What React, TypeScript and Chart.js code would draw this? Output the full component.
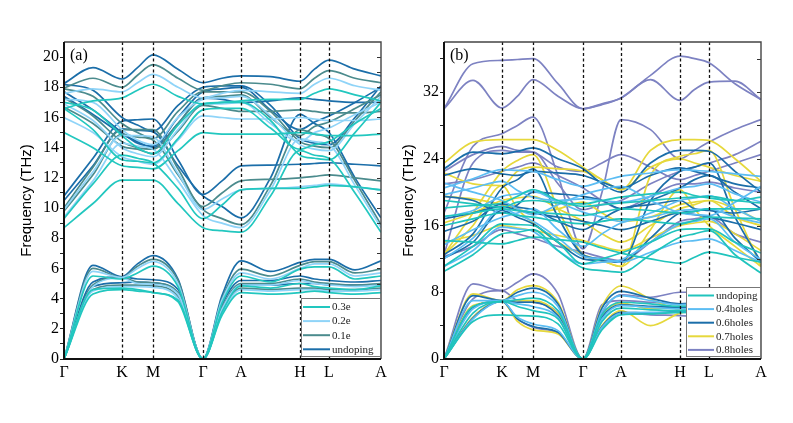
import React, { useEffect, useRef } from 'react';
import { Chart, registerables } from 'chart.js';
Chart.register(...registerables);

// k-path sample positions (path distance units) and high-symmetry points
const K_GRID = [0, 29, 58, 73.5, 89, 114, 139, 158, 177, 206.5, 236, 250.5, 265, 291, 317];
const SYM_POS = [0, 58, 89, 139, 177, 236, 265, 317];
const SYM_LABELS = ['Γ', 'K', 'M', 'Γ', 'A', 'H', 'L', 'A'];

// ---------- panel (a) ----------
const A_Y_TICKS = [0, 1, 2, 3, 4, 5, 6, 7, 8, 9, 10, 11, 12, 13, 14, 15, 16, 17, 18, 19, 20];
const A_Y_LABELED = [0, 2, 4, 6, 8, 10, 12, 14, 16, 18, 20];
const A_LABELS = ['0.3e', '0.2e', '0.1e', 'undoping'];
const A_COLORS = ['#22c7bf', '#8fd4f8', '#4b8b8d', '#1b6ea9'];

const A_E03 = [
  [0, 5.5, 5.3, 5.7, 6.15, 4.8, 0, 3.7, 5.5, 5.1, 5.95, 6.1, 6.1, 5.3, 5.5],
  [0, 4.6, 4.7, 4.6, 4.4, 3.9, 0, 3.1, 4.85, 4.7, 5.0, 4.8, 4.7, 4.6, 4.85],
  [0, 4.3, 4.6, 4.5, 4.4, 3.8, 0, 2.9, 4.4, 4.3, 4.4, 4.5, 4.4, 4.3, 4.4],
  [8.7, 10.3, 11.85, 11.85, 11.85, 10.3, 8.7, 8.5, 8.4, 10.8, 13.8, 13.5, 13.3, 11.0, 8.4],
  [9.3, 11.6, 13.5, 13.3, 13.0, 11.3, 9.3, 10.2, 11.2, 11.3, 11.3, 11.4, 11.5, 11.4, 11.2],
  [15.0, 14.0, 12.8, 12.7, 12.6, 13.8, 15.0, 14.9, 14.9, 14.9, 15.0, 14.9, 14.8, 14.8, 14.9],
  [16.6, 15.2, 13.2, 13.1, 13.0, 14.6, 16.5, 16.6, 16.6, 15.3, 13.9, 14.2, 14.4, 15.6, 16.6],
  [17.0, 16.5, 14.8, 14.0, 13.6, 15.5, 16.9, 17.0, 17.0, 15.8, 13.5, 13.3, 13.2, 15.0, 17.0],
  [16.6, 17.1, 17.3, 17.8, 18.2, 17.4, 16.9, 17.0, 17.1, 17.2, 17.2, 17.6, 17.9, 17.5, 17.1],
];
const A_E02 = [
  [0, 5.8, 5.4, 6.0, 6.45, 5.0, 0, 3.9, 5.7, 5.3, 6.0, 6.3, 6.3, 5.5, 5.7],
  [0, 4.8, 5.35, 5.0, 4.95, 4.3, 0, 3.3, 4.9, 4.9, 5.2, 5.0, 4.9, 4.8, 4.9],
  [0, 4.5, 4.8, 4.8, 4.75, 4.0, 0, 3.0, 4.6, 4.5, 4.6, 4.6, 4.5, 4.5, 4.6],
  [9.4, 11.8, 14.3, 14.1, 13.9, 11.8, 9.5, 9.0, 8.7, 11.2, 14.6, 14.4, 14.2, 11.5, 8.7],
  [9.9, 12.4, 14.8, 14.8, 14.7, 12.3, 9.9, 10.6, 11.2, 11.3, 11.4, 11.5, 11.6, 11.4, 11.2],
  [16.0, 15.0, 13.4, 13.1, 12.9, 14.5, 16.1, 16.0, 15.9, 15.9, 16.0, 15.9, 15.8, 15.8, 15.9],
  [16.9, 15.8, 14.0, 13.6, 13.4, 15.2, 16.9, 16.9, 17.0, 15.6, 14.4, 15.0, 15.3, 16.2, 17.0],
  [17.2, 17.0, 15.2, 14.5, 14.2, 16.0, 17.2, 17.3, 17.4, 16.1, 14.2, 13.9, 13.8, 15.6, 17.4],
  [17.6, 17.9, 17.7, 18.3, 18.85, 18.0, 17.3, 17.6, 17.8, 17.7, 17.6, 18.2, 18.6, 18.1, 17.8],
];
const A_E01 = [
  [0, 6.0, 5.4, 6.15, 6.6, 5.2, 0, 4.0, 5.95, 5.5, 6.2, 6.45, 6.45, 5.7, 5.95],
  [0, 4.9, 5.4, 5.1, 5.05, 4.4, 0, 3.4, 5.0, 5.0, 5.3, 5.1, 5.0, 4.9, 5.0],
  [0, 4.6, 4.9, 4.9, 4.85, 4.1, 0, 3.1, 4.7, 4.6, 4.7, 4.7, 4.6, 4.6, 4.7],
  [9.8, 12.2, 14.9, 14.7, 14.5, 12.2, 9.9, 9.3, 8.9, 11.5, 15.2, 14.9, 14.6, 11.8, 8.9],
  [10.0, 12.7, 15.2, 15.2, 15.2, 12.6, 10.1, 11.0, 11.8, 11.9, 12.0, 12.1, 12.2, 12.0, 11.8],
  [16.7, 15.6, 14.1, 13.9, 13.6, 15.1, 16.8, 16.6, 16.4, 16.4, 16.5, 16.4, 16.3, 16.3, 16.4],
  [17.3, 16.1, 14.4, 14.0, 13.9, 15.6, 17.3, 17.4, 17.5, 16.0, 14.8, 15.4, 15.7, 16.6, 17.5],
  [17.9, 17.4, 15.6, 15.0, 14.6, 16.4, 17.7, 17.7, 17.7, 16.4, 14.4, 14.1, 14.0, 15.8, 17.7],
  [17.95, 18.6, 18.0, 18.8, 19.5, 18.6, 17.8, 18.1, 18.3, 18.2, 17.9, 18.6, 19.1, 18.6, 18.3],
];
const A_UNDOPING = [
  [0, 6.2, 5.45, 6.3, 6.85, 5.3, 0, 4.2, 6.5, 5.8, 6.4, 6.6, 6.6, 5.9, 6.5],
  [0, 5.1, 5.45, 5.3, 5.25, 4.6, 0, 3.6, 5.2, 5.2, 5.5, 5.3, 5.2, 5.1, 5.2],
  [0, 4.8, 5.05, 5.1, 5.05, 4.3, 0, 3.3, 4.9, 4.9, 5.0, 5.0, 4.9, 4.9, 4.9],
  [10.5, 12.8, 15.25, 15.15, 15.05, 12.8, 10.8, 10.1, 9.35, 12.0, 16.2, 15.6, 15.0, 12.0, 9.35],
  [10.8, 13.3, 15.75, 15.85, 15.9, 13.2, 10.9, 11.8, 12.8, 12.85, 12.9, 12.95, 13.0, 12.9, 12.8],
  [17.4, 16.2, 14.9, 14.4, 14.0, 15.6, 17.3, 17.2, 17.0, 17.1, 17.3, 17.2, 17.1, 17.0, 17.0],
  [17.7, 16.5, 15.0, 14.3, 14.1, 16.0, 17.7, 17.9, 18.0, 16.5, 15.2, 15.7, 16.1, 17.0, 18.0],
  [18.2, 17.8, 16.0, 15.5, 15.1, 16.8, 18.0, 18.1, 18.1, 16.8, 14.6, 14.3, 14.2, 16.0, 18.1],
  [18.25, 19.3, 18.55, 19.3, 20.15, 19.2, 18.3, 18.6, 18.75, 18.7, 18.4, 19.2, 19.8, 19.2, 18.75],
];

// ---------- panel (b) ----------
const B_Y_TICKS = [0, 4, 8, 12, 16, 20, 24, 28, 32, 36];
const B_Y_LABELED = [0, 8, 16, 24, 32];
const B_LABELS = ['undoping', '0.4holes', '0.6holes', '0.7holes', '0.8holes'];
const B_COLORS = ['#20c4bd', '#5cbdf3', '#1b6ea9', '#e6d83c', '#7d82c2'];

const B_UNDOPING = [
  [0, 4.5, 5.3, 5.2, 5.15, 4.2, 0, 3.5, 5.3, 5.4, 5.6, 5.6, 5.5, 5.4, 5.3],
  [0, 5.5, 6.9, 6.3, 5.8, 4.8, 0, 4.5, 6.1, 5.9, 5.8, 5.9, 6.0, 6.0, 6.1],
  [0, 6.3, 6.9, 7.1, 7.3, 5.8, 0, 5.3, 6.8, 6.6, 6.3, 6.4, 6.4, 6.6, 6.8],
  [10.5, 12.5, 15.0, 15.2, 15.5, 13.0, 10.9, 10.6, 10.4, 12.5, 14.6, 15.0, 15.4, 12.5, 10.3],
  [11.1, 13.5, 16.2, 16.1, 16.0, 14.0, 11.4, 12.0, 12.7, 14.0, 15.5, 15.6, 15.6, 14.0, 12.7],
  [14.2, 14.0, 13.8, 14.2, 14.6, 14.3, 14.0, 13.3, 12.7, 12.0, 11.5, 12.2, 12.8, 12.2, 11.6],
  [16.0, 16.8, 17.5, 17.2, 17.0, 16.5, 16.2, 16.5, 16.8, 16.5, 16.2, 16.6, 17.0, 16.9, 16.8],
  [17.1, 17.5, 18.0, 17.8, 17.6, 17.4, 17.2, 17.6, 18.0, 17.8, 17.5, 17.7, 18.0, 18.0, 18.0],
  [18.1, 18.4, 18.7, 19.5, 20.3, 19.0, 18.3, 18.5, 18.7, 19.0, 19.3, 19.4, 19.5, 19.0, 18.7],
  [19.0, 18.6, 18.2, 18.8, 19.0, 18.7, 18.6, 19.0, 19.4, 19.8, 20.0, 19.6, 19.3, 19.0, 19.4],
];
const B_H04 = [
  [0, 4.8, 6.9, 5.0, 4.2, 3.4, 0, 3.8, 5.5, 5.6, 5.6, 5.6, 5.5, 5.4, 5.5],
  [0, 6.0, 6.9, 6.6, 6.3, 5.0, 0, 4.8, 6.4, 6.2, 6.0, 6.0, 6.1, 6.2, 6.4],
  [0, 7.0, 7.0, 7.6, 8.0, 6.3, 0, 5.7, 7.6, 7.0, 6.5, 6.6, 6.7, 7.0, 7.4],
  [11.1, 13.0, 15.8, 15.6, 15.3, 13.0, 11.4, 11.6, 11.9, 14.0, 16.2, 16.5, 16.8, 14.0, 11.9],
  [12.0, 14.5, 18.0, 17.3, 16.5, 14.5, 12.3, 12.0, 11.6, 12.8, 14.0, 14.2, 14.4, 13.0, 11.6],
  [13.7, 15.5, 17.0, 17.5, 18.0, 15.5, 13.5, 15.0, 16.3, 17.0, 17.8, 17.9, 18.0, 17.0, 16.3],
  [17.0, 17.8, 19.5, 19.8, 20.1, 18.8, 17.6, 17.0, 16.5, 17.5, 19.0, 19.3, 19.6, 18.0, 16.5],
  [19.7, 20.5, 21.3, 20.2, 19.4, 19.0, 19.2, 19.0, 18.8, 19.5, 20.5, 20.7, 21.0, 19.8, 18.8],
  [20.5, 21.6, 22.7, 22.6, 22.5, 21.5, 20.7, 21.3, 21.9, 22.3, 22.7, 22.6, 22.5, 22.2, 21.9],
  [21.1, 20.0, 19.0, 18.0, 17.3, 18.5, 19.7, 20.3, 20.7, 19.0, 17.5, 17.3, 17.2, 18.8, 20.7],
];
const B_H06 = [
  [0, 4.9, 6.9, 4.8, 3.9, 3.2, 0, 3.9, 5.6, 5.5, 5.7, 5.6, 5.5, 5.4, 5.6],
  [0, 6.2, 6.9, 6.8, 6.8, 5.2, 0, 5.0, 6.5, 6.3, 6.2, 6.2, 6.2, 6.3, 6.4],
  [0, 7.6, 7.0, 8.0, 8.5, 6.6, 0, 6.1, 8.1, 7.3, 6.6, 6.7, 6.8, 7.2, 7.8],
  [12.1, 14.0, 17.8, 17.0, 16.2, 14.0, 12.0, 11.8, 11.6, 14.5, 17.5, 17.7, 18.0, 14.5, 11.6],
  [12.5, 15.0, 20.5, 21.5, 22.8, 17.0, 12.5, 12.0, 11.6, 19.0, 22.5, 23.0, 23.5, 17.0, 11.6],
  [15.3, 16.5, 18.6, 18.2, 17.9, 16.5, 15.5, 16.8, 18.0, 18.5, 19.0, 18.0, 17.8, 17.5, 18.0],
  [16.8, 17.5, 18.3, 17.8, 17.5, 17.0, 16.5, 16.0, 15.5, 16.5, 17.5, 17.3, 17.0, 16.3, 15.5],
  [19.5, 19.0, 17.5, 18.5, 20.0, 19.8, 19.5, 19.0, 18.0, 19.0, 20.5, 21.5, 22.0, 20.0, 18.0],
  [22.0, 22.8, 22.2, 22.0, 22.5, 22.3, 22.0, 21.2, 20.5, 22.0, 22.9, 22.5, 22.0, 21.0, 20.5],
  [22.8, 24.8, 24.6, 24.9, 25.3, 24.0, 22.8, 21.0, 20.0, 23.5, 25.0, 25.0, 24.9, 22.5, 20.0],
];
const B_H07 = [
  [0, 5.0, 6.9, 4.5, 3.5, 3.0, 0, 4.0, 5.8, 4.0, 5.5, 5.8, 5.7, 5.5, 5.8],
  [0, 6.4, 6.9, 7.0, 7.0, 5.4, 0, 5.2, 6.7, 6.0, 6.3, 6.2, 6.3, 6.4, 6.6],
  [0, 7.8, 7.0, 8.3, 8.8, 6.8, 0, 6.3, 8.75, 7.2, 6.0, 6.3, 6.4, 7.0, 8.0],
  [12.5, 16.0, 20.8, 18.0, 16.3, 14.0, 12.5, 11.8, 11.1, 15.5, 20.3, 18.0, 16.0, 13.5, 11.1],
  [12.5, 17.5, 22.5, 23.8, 24.5, 18.0, 12.5, 11.8, 11.1, 22.0, 24.3, 24.6, 25.0, 18.0, 11.1],
  [14.0, 14.8, 16.0, 15.7, 15.4, 14.8, 14.2, 13.5, 13.0, 14.5, 16.0, 16.3, 16.5, 15.0, 13.0],
  [16.3, 17.5, 19.0, 19.3, 19.5, 18.0, 16.5, 15.0, 14.0, 16.0, 18.0, 18.5, 19.0, 17.0, 16.0],
  [19.5, 19.2, 18.5, 18.0, 17.5, 18.0, 18.8, 17.5, 16.5, 17.0, 18.5, 18.8, 19.0, 18.0, 16.5],
  [22.3, 21.0, 20.8, 22.5, 23.0, 22.8, 22.5, 21.5, 20.3, 23.0, 24.0, 23.5, 23.0, 22.0, 21.3],
  [23.5, 26.0, 26.3, 26.3, 26.3, 25.0, 23.0, 21.5, 20.3, 25.0, 26.3, 26.3, 26.2, 24.0, 21.3],
];
const B_H08 = [
  [0, 5.0, 6.9, 4.8, 3.8, 3.1, 0, 3.8, 5.5, 5.3, 5.2, 5.1, 5.0, 5.2, 5.5],
  [0, 7.2, 8.2, 7.0, 6.8, 5.5, 0, 5.5, 7.7, 7.4, 8.0, 8.0, 7.9, 7.9, 7.7],
  [0, 9.0, 8.2, 9.2, 10.2, 7.8, 0, 6.5, 7.0, 6.8, 6.6, 6.5, 6.5, 6.7, 7.0],
  [12.3, 13.5, 15.5, 15.0, 14.5, 13.5, 12.8, 12.2, 11.8, 14.0, 16.5, 16.8, 17.0, 15.0, 14.0],
  [12.5, 23.5, 25.0, 24.8, 24.8, 21.0, 17.9, 18.5, 19.0, 21.0, 22.5, 23.0, 23.5, 24.5, 26.1],
  [17.5, 25.5, 27.0, 28.0, 29.0, 22.0, 13.2, 20.0, 28.7, 27.5, 24.0, 25.0, 26.0, 27.5, 28.7],
  [21.0, 21.5, 22.5, 23.0, 23.5, 22.0, 20.5, 19.0, 18.0, 19.5, 21.0, 21.0, 21.2, 20.5, 20.0],
  [22.5, 24.5, 25.5, 25.0, 24.8, 23.0, 22.5, 23.5, 24.5, 23.0, 21.5, 22.0, 22.5, 23.5, 24.5],
  [30.0, 33.4, 30.1, 31.5, 33.5, 31.5, 30.0, 30.5, 31.3, 33.5, 31.0, 32.3, 33.2, 33.3, 31.1],
  [30.0, 35.4, 35.8, 35.9, 36.0, 33.0, 30.0, 30.6, 31.3, 34.0, 36.3, 36.0, 35.5, 33.0, 31.1],
];

const A_SERIES = [A_E03, A_E02, A_E01, A_UNDOPING];
const B_SERIES = [B_UNDOPING, B_H04, B_H06, B_H07, B_H08];

function buildDatasets(series: number[][][], labels: string[], colors: string[]) {
  const out: any[] = [];
  series.forEach((bands, si) => {
    bands.forEach((band) => {
      out.push({
        label: labels[si],
        data: band.map((y, i) => ({ x: K_GRID[i], y })),
        borderColor: colors[si],
        backgroundColor: colors[si],
        borderWidth: 1.7,
        pointRadius: 0,
        fill: false,
        tension: 0.4,
        cubicInterpolationMode: 'monotone',
      });
    });
  });
  return out;
}

const decorPlugin = {
  id: 'decor',
  afterDatasetsDraw(chart: any, _args: any, opts: any) {
    const { ctx, chartArea: ca, scales } = chart;
    const xs = scales.x;
    const ys = scales.y;
    ctx.save();
    // dashed high-symmetry lines
    ctx.strokeStyle = '#111';
    ctx.lineWidth = 1.3;
    ctx.setLineDash([3, 2.5]);
    SYM_POS.slice(1, -1).forEach((v) => {
      const px = Math.round(xs.getPixelForValue(v)) + 0.5;
      ctx.beginPath();
      ctx.moveTo(px, ca.top);
      ctx.lineTo(px, ca.bottom);
      ctx.stroke();
    });
    ctx.setLineDash([]);
    // inner ticks on right edge
    ctx.strokeStyle = '#333';
    ctx.lineWidth = 1;
    (opts.rightTicks as number[]).forEach((v) => {
      const py = Math.round(ys.getPixelForValue(v)) + 0.5;
      ctx.beginPath();
      ctx.moveTo(ca.right, py);
      ctx.lineTo(ca.right - 4, py);
      ctx.stroke();
    });
    // frame
    ctx.strokeStyle = '#444';
    ctx.lineWidth = 1.4;
    ctx.beginPath();
    ctx.moveTo(ca.left, ca.top);
    ctx.lineTo(ca.right, ca.top);
    ctx.lineTo(ca.right, ca.bottom);
    ctx.stroke();
    ctx.strokeStyle = '#111';
    ctx.lineWidth = 2;
    ctx.beginPath();
    ctx.moveTo(ca.left, ca.top);
    ctx.lineTo(ca.left, ca.bottom);
    ctx.lineTo(ca.right, ca.bottom);
    ctx.stroke();
    // panel label
    ctx.fillStyle = '#000';
    ctx.font = '16px "Liberation Serif"';
    ctx.textBaseline = 'alphabetic';
    ctx.textAlign = 'left';
    ctx.fillText(opts.panel, ca.left + 6, ca.top + 18);
    // legend
    const lg = opts.legend;
    const bx = ca.right - lg.w;
    const by = ca.bottom - 2 - lg.h;
    ctx.fillStyle = '#fff';
    ctx.fillRect(bx, by, lg.w, lg.h);
    ctx.strokeStyle = '#777';
    ctx.lineWidth = 1;
    ctx.strokeRect(bx + 0.5, by + 0.5, lg.w - 1, lg.h - 1);
    ctx.font = '11px "Liberation Serif"';
    ctx.textBaseline = 'middle';
    (lg.labels as string[]).forEach((lab, i) => {
      const ry = by + lg.first + i * lg.row;
      ctx.strokeStyle = lg.colors[i];
      ctx.lineWidth = 2;
      ctx.beginPath();
      ctx.moveTo(bx + 2, ry);
      ctx.lineTo(bx + 2 + lg.line, ry);
      ctx.stroke();
      ctx.fillStyle = '#222';
      ctx.fillText(lab, bx + 4 + lg.line, ry + 0.5);
    });
    ctx.restore();
  },
};

function makeConfig(opts: any) {
  return {
    type: 'line',
    data: { datasets: opts.datasets },
    plugins: [decorPlugin],
    options: {
      animation: false,
      responsive: false,
      maintainAspectRatio: false,
      events: [],
      layout: { padding: opts.padding },
      plugins: {
        legend: { display: false },
        tooltip: { enabled: false },
        decor: opts.decor,
      },
      scales: {
        x: {
          type: 'linear',
          min: 0,
          max: 317,
          afterBuildTicks: (s: any) => {
            s.ticks = SYM_POS.map((v) => ({ value: v }));
          },
          afterFit: (s: any) => {
            s.height = 64;
          },
          ticks: {
            autoSkip: false,
            maxRotation: 0,
            padding: 4,
            color: '#000',
            font: { family: 'Liberation Serif', size: 16 },
            callback: (_v: any, i: number) => SYM_LABELS[i],
          },
          grid: { display: false, drawTicks: false },
          border: { display: false },
        },
        y: {
          type: 'linear',
          min: 0,
          max: opts.yMax,
          afterBuildTicks: (s: any) => {
            s.ticks = opts.yTicks.map((v: number) => ({ value: v }));
          },
          afterFit: (s: any) => {
            s.width = opts.yWidth;
          },
          ticks: {
            autoSkip: false,
            padding: 1,
            color: '#000',
            font: { family: 'Liberation Serif', size: 16 },
            callback: (v: any) => (opts.yLabeled.includes(v) ? String(v) : ''),
          },
          grid: {
            display: true,
            drawOnChartArea: false,
            drawTicks: true,
            tickLength: 4,
            tickColor: '#222',
            tickWidth: 1,
          },
          border: { display: false },
          title: {
            display: true,
            text: 'Frequency (THz)',
            color: '#000',
            font: { family: 'Liberation Sans', size: 15 },
            padding: { top: 0, bottom: 0 },
          },
        },
      },
    },
  };
}

function ChartCanvas(props: { config: any; left: number; width: number }) {
  const ref = useRef<HTMLCanvasElement | null>(null);
  useEffect(() => {
    if (!ref.current) return;
    const chart = new Chart(ref.current, props.config);
    return () => chart.destroy();
  }, []);
  return (
    <canvas
      ref={ref}
      width={props.width}
      height={423}
      style={{ position: 'absolute', left: props.left, top: 0, width: props.width, height: 423, display: 'block' }}
    />
  );
}

export default function App() {
  const cfgA = makeConfig({
    datasets: buildDatasets(A_SERIES, A_LABELS, A_COLORS),
    padding: { left: 18, right: 19, top: 42, bottom: 0 },
    yWidth: 46,
    yMax: 21,
    yTicks: A_Y_TICKS,
    yLabeled: A_Y_LABELED,
    decor: {
      panel: '(a)',
      rightTicks: A_Y_TICKS.slice(1),
      legend: { w: 80, h: 59, first: 9, row: 14.1, line: 27, labels: A_LABELS, colors: A_COLORS },
    },
  });
  const cfgB = makeConfig({
    datasets: buildDatasets(B_SERIES, B_LABELS, B_COLORS),
    padding: { left: 0, right: 32, top: 42, bottom: 0 },
    yWidth: 44,
    yMax: 38,
    yTicks: B_Y_TICKS,
    yLabeled: B_Y_LABELED,
    decor: {
      panel: '(b)',
      rightTicks: B_Y_TICKS.slice(1),
      legend: { w: 75, h: 70, first: 8.5, row: 13.6, line: 26, labels: B_LABELS, colors: B_COLORS },
    },
  });
  return (
    <div style={{ position: 'fixed', left: 0, top: 0, width: 793, height: 423, background: '#fff', overflow: 'hidden' }}>
      <ChartCanvas config={cfgA} left={0} width={400} />
      <ChartCanvas config={cfgB} left={400} width={393} />
    </div>
  );
}
